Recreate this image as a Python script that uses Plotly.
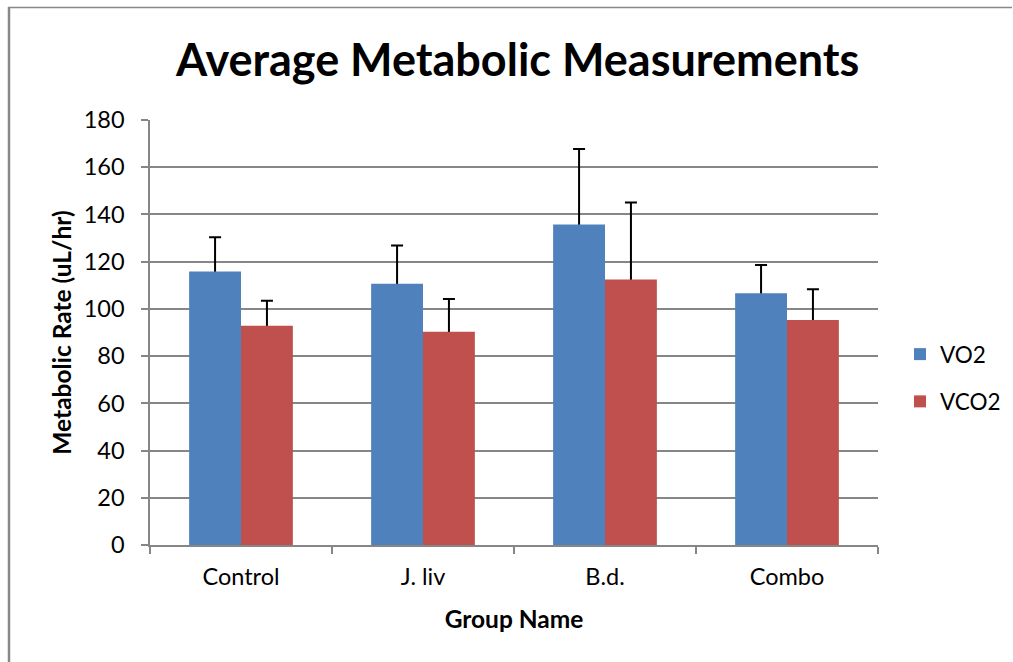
import plotly.graph_objects as go

groups = ["Control", "J. liv", "B.d.", "Combo"]
vo2 = [115.8, 110.7, 135.7, 106.6]
vo2_err = [14.5, 16.1, 32.0, 12.0]
vco2 = [92.9, 90.3, 112.5, 95.3]
vco2_err = [10.6, 13.9, 32.6, 13.0]
y_ticks = [0, 20, 40, 60, 80, 100, 120, 140, 160, 180]

FONT = "Lato"
W, H = 1013, 662
ML, MR, MT, MB = 150, 135, 120, 117
pw = W - ML - MR
ph = H - MT - MB

def px_to_paper_x(px):
    return (px - ML) / pw

def px_to_paper_y(py):
    return (H - MB - py) / ph

series = [("VO2", vo2, vo2_err, "#4F81BD", "g1"), ("VCO2", vco2, vco2_err, "#C0504D", "g2")]

fig = go.Figure()
# error bars first (hidden bars), so the visible bars cover the lower cap
for name, vals, errs, color, og in series:
    fig.add_trace(go.Bar(
        x=groups, y=vals, offsetgroup=og, showlegend=False, hoverinfo="skip",
        marker=dict(color="rgba(0,0,0,0)", line=dict(width=0)),
        error_y=dict(type="data", symmetric=False, array=errs,
                     arrayminus=[1.5] * len(vals), color="black", thickness=2, width=6),
    ))
for name, vals, errs, color, og in series:
    fig.add_trace(go.Bar(
        name=name, x=groups, y=vals, offsetgroup=og, legendgroup=og,
        marker=dict(color=color, line=dict(width=0)),
    ))

fig.update_layout(
    width=W, height=H,
    margin=dict(l=ML, r=MR, t=MT, b=MB, autoexpand=False),
    paper_bgcolor="white", plot_bgcolor="white",
    barmode="group", bargap=0.43, bargroupgap=0,
    font=dict(family=FONT, color="black", size=23.5),
    title=dict(text="<b>Average Metabolic Measurements</b>",
               font=dict(family=FONT, size=45, color="black"),
               x=0.511, xanchor="center", y=1 - 60 / H, yanchor="middle"),
    showlegend=True,
    legend=dict(x=px_to_paper_x(900), xanchor="left",
                y=px_to_paper_y(378), yanchor="middle",
                font=dict(family=FONT, size=22.5, color="black"),
                itemwidth=30,
                tracegroupgap=15, bgcolor="rgba(0,0,0,0)"),
    xaxis=dict(
        showline=True, linecolor="#868686", linewidth=1.5,
        ticks="outside", tickson="boundaries", ticklen=7, tickcolor="#868686", tickwidth=1.5,
        tickfont=dict(family=FONT, size=23.5), ticklabelstandoff=10,
        title=dict(text="<b>Group Name</b>", font=dict(family=FONT, size=24.5), standoff=22),
        showgrid=False,
    ),
    yaxis=dict(
        range=[0, 180], tickvals=y_ticks,
        showline=True, linecolor="#868686", linewidth=1.5,
        ticks="outside", ticklen=7, tickcolor="#868686", tickwidth=1.5,
        tickfont=dict(family=FONT, size=23.5), ticklabelstandoff=12,
        showgrid=True, gridcolor="#868686", gridwidth=1.5,
        zeroline=False,
        title=dict(text="<b>Metabolic Rate (uL/hr)</b>", font=dict(family=FONT, size=24.5), standoff=5),
    ),
    shapes=[
        dict(type="line", xref="paper", yref="paper",
             x0=px_to_paper_x(9), x1=px_to_paper_x(9),
             y0=px_to_paper_y(7), y1=px_to_paper_y(H + 5),
             line=dict(color="#888888", width=2.5)),
        dict(type="line", xref="paper", yref="paper",
             x0=px_to_paper_x(8), x1=px_to_paper_x(1012),
             y0=px_to_paper_y(7.5), y1=px_to_paper_y(7.5),
             line=dict(color="#888888", width=1.5)),
    ],
)

fig.write_html("out.html", config={"displayModeBar": False},
               post_script="document.body.style.margin='0';document.body.style.padding='0';")
